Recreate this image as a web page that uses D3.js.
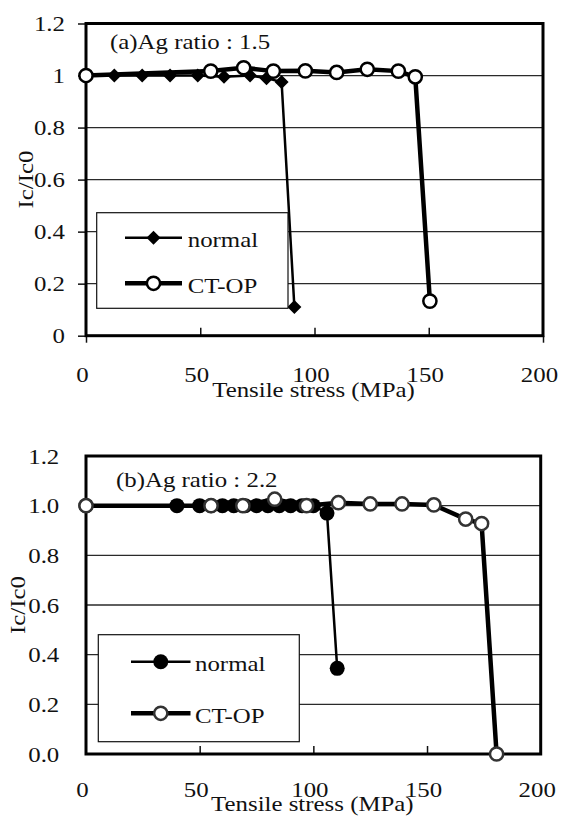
<!DOCTYPE html>
<html lang="en">
<head>
    <meta charset="UTF-8">
    <title>Ic/Ic0 vs tensile stress</title>
    <script src="https://d3js.org/d3.v7.min.js"></script>
    <style>
        body{ margin: 0; background: white; }
        #canvas{ display: block; }
        text{ font-family: "Liberation Serif", "Times New Roman", serif; fill: #111; }
    </style>
</head>
<body>
<svg id="canvas" width="563" height="821"></svg>

<script>
    // ---- data ----
    // (a) Ag ratio 1.5
    let normalA_x = [0, 12.4, 24.6, 36.8, 48.9, 60.4, 71.8, 79, 85.6, 91.2];
    let normalA_y = [1.0, 1.0, 1.0, 1.0, 1.0, 0.995, 1.0, 0.99, 0.975, 0.11];
    let ctopA_x = [0, 54.6, 69, 82, 96, 109.7, 123.1, 136.7, 144.1, 150.5];
    let ctopA_y = [1.0, 1.017, 1.03, 1.017, 1.018, 1.012, 1.024, 1.017, 0.995, 0.133];

    // (b) Ag ratio 2.2
    let normalB_x = [0, 40, 50, 55, 60, 65, 70, 75, 80, 85, 90, 95, 100, 106, 110.5];
    let normalB_y = [1.0, 1.0, 1.0, 1.0, 1.0, 1.0, 1.0, 1.0, 1.0, 1.0, 1.0, 1.0, 1.0, 0.97, 0.345];
    let ctopB_x = [0, 55, 69, 83, 97, 111, 125, 139, 153, 167, 174, 180.6];
    let ctopB_y = [1.0, 1.0, 1.0, 1.026, 1.0, 1.012, 1.007, 1.007, 1.003, 0.946, 0.928, 0.0];

    let xTicks = [0, 50, 100, 150, 200];
    let yTicks = [0, 0.2, 0.4, 0.6, 0.8, 1.0, 1.2];
    let yLabelsA = ["0", "0.2", "0.4", "0.6", "0.8", "1", "1.2"];
    let yLabelsB = ["0.0", "0.2", "0.4", "0.6", "0.8", "1.0", "1.2"];
    let seriesNames = ["normal", "CT-OP"];

    let svg = d3.select('#canvas');
    let SX = 1.13;   // the figure's serif glyphs are a bit wide
    let FS = 22;

    function label(g, str, x, y, anchor, rot) {
        return g.append('text')
            .attr('transform', 'translate(' + x + ',' + y + ')' + (rot ? ' rotate(-90)' : '') + ' scale(' + SX + ',1)')
            .attr('text-anchor', anchor || 'start')
            .style('font-size', FS + 'px')
            .text(str);
    }

    let diamond = 'M0,-7L7,0L0,7L-7,0Z';

    function panel(opt) {
        let g = svg.append('g');
        let x = d3.scaleLinear().domain([0, 200]).range([opt.left, opt.right]);
        let y = d3.scaleLinear().domain([0, 1.2]).range([opt.bottom, opt.top]);

        // gridlines
        g.append('g').selectAll('line')
            .data(yTicks.filter(d => d > 0 && d < 1.2))
            .enter().append('line')
            .attr('x1', opt.left).attr('x2', opt.right)
            .attr('y1', d => y(d)).attr('y2', d => y(d))
            .attr('stroke', '#2a2a2a').attr('stroke-width', 1.3);

        // y ticks (outside) and x ticks (inside)
        if (opt.yTickOut) {
            g.append('g')
                .attr('transform', 'translate(' + opt.left + ',0)')
                .call(d3.axisLeft(y).tickValues(yTicks).tickSize(8).tickFormat(''))
                .call(a => a.select('.domain').remove())
                .selectAll('line').attr('stroke', '#111').attr('stroke-width', 1.5);
        }
        g.append('g')
            .attr('transform', 'translate(0,' + opt.bottom + ')')
            .call(d3.axisTop(x).tickValues([50, 100, 150]).tickSize(8).tickFormat(''))
            .call(a => a.select('.domain').remove())
            .selectAll('line').attr('stroke', '#111').attr('stroke-width', 1.5);
        if (opt.xTickDown) {
            g.append('g')
                .attr('transform', 'translate(0,' + opt.bottom + ')')
                .call(d3.axisBottom(x).tickValues([0, 200]).tickSize(7).tickFormat(''))
                .call(a => a.select('.domain').remove())
                .selectAll('line').attr('stroke', '#111').attr('stroke-width', 1.5);
        }

        // frame
        g.append('rect')
            .attr('x', opt.left).attr('y', opt.top)
            .attr('width', opt.right - opt.left).attr('height', opt.bottom - opt.top)
            .attr('fill', 'none').attr('stroke', '#000').attr('stroke-width', 3);

        // tick labels
        yTicks.forEach((t, i) => label(g, opt.yLabels[i], opt.yLabelX, y(t) + 7.5, 'end'));
        xTicks.forEach(t => label(g, String(t), x(t) - 3.5, opt.bottom + opt.xLabelDy, 'middle'));

        // axis titles
        label(g, 'Tensile stress (MPa)', (opt.left + opt.right) / 2 - 1, opt.xTitleY, 'middle');
        label(g, 'Ic/Ic0', opt.yTitleX, (opt.top + opt.bottom) / 2, 'middle', true);

        // panel title
        label(g, opt.title, opt.titleX, opt.titleY, 'start');

        let line = d3.line().x(d => x(d[0])).y(d => y(d[1]));
        let normal = d3.zip(opt.nx, opt.ny);
        let ctop = d3.zip(opt.cx, opt.cy);

        // normal series
        g.append('path').datum(normal)
            .attr('d', line).attr('fill', 'none')
            .attr('stroke', '#000').attr('stroke-width', 2.5);
        if (opt.normalMarker === 'diamond') {
            g.append('g').selectAll('path').data(normal).enter().append('path')
                .attr('d', diamond)
                .attr('transform', d => 'translate(' + x(d[0]) + ',' + y(d[1]) + ')')
                .attr('fill', '#000');
        } else {
            g.append('g').selectAll('circle').data(normal).enter().append('circle')
                .attr('cx', d => x(d[0])).attr('cy', d => y(d[1]))
                .attr('r', 7.5).attr('fill', '#000');
        }

        // CT-OP series
        g.append('path').datum(ctop)
            .attr('d', line).attr('fill', 'none')
            .attr('stroke', '#000').attr('stroke-width', 4.5);
        g.append('g').selectAll('circle').data(ctop).enter().append('circle')
            .attr('cx', d => x(d[0])).attr('cy', d => y(d[1]))
            .attr('r', 6.6).attr('fill', '#fff')
            .attr('stroke', opt.ringColor).attr('stroke-width', 2.5);

        // legend
        let L = opt.legend;
        let lg = g.append('g');
        lg.append('rect')
            .attr('x', L.x0).attr('y', L.y0)
            .attr('width', L.x1 - L.x0).attr('height', L.y1 - L.y0)
            .attr('fill', '#fff').attr('stroke', '#111').attr('stroke-width', 1.2);
        L.rows.forEach((ry, i) => {
            lg.append('line')
                .attr('x1', L.lx0).attr('x2', L.lx1).attr('y1', ry).attr('y2', ry)
                .attr('stroke', '#000').attr('stroke-width', i === 0 ? 2.5 : 4.5);
            let mx = (L.lx0 + L.lx1) / 2;
            if (i === 0) {
                if (opt.normalMarker === 'diamond') {
                    lg.append('path').attr('d', diamond)
                        .attr('transform', 'translate(' + mx + ',' + ry + ')').attr('fill', '#000');
                } else {
                    lg.append('circle').attr('cx', mx).attr('cy', ry).attr('r', 7.5).attr('fill', '#000');
                }
            } else {
                lg.append('circle').attr('cx', mx).attr('cy', ry).attr('r', 6.6)
                    .attr('fill', '#fff').attr('stroke', opt.ringColor).attr('stroke-width', 2.5);
            }
            label(lg, seriesNames[i], L.tx, ry + 9.5, 'start');
        });
    }

    panel({
        left: 86, right: 543, top: 23.5, bottom: 335.7,
        yLabels: yLabelsA, yLabelX: 65, yTickOut: true, xTickDown: true,
        xLabelDy: 46, xTitleY: 396.5, yTitleX: 33,
        title: '(a)Ag ratio : 1.5', titleX: 110, titleY: 48.5,
        nx: normalA_x, ny: normalA_y, cx: ctopA_x, cy: ctopA_y,
        normalMarker: 'diamond', ringColor: '#000',
        legend: {x0: 96.7, x1: 288, y0: 212.7, y1: 308.3, rows: [237.7, 283.3], lx0: 125, lx1: 182, tx: 187.7}
    });

    panel({
        left: 86, right: 540.7, top: 456, bottom: 754,
        yLabels: yLabelsB, yLabelX: 59.3, yTickOut: false, xTickDown: false,
        xLabelDy: 43, xTitleY: 810.5, yTitleX: 25,
        title: '(b)Ag ratio : 2.2', titleX: 116, titleY: 487.3,
        nx: normalB_x, ny: normalB_y, cx: ctopB_x, cy: ctopB_y,
        normalMarker: 'circle', ringColor: '#333',
        legend: {x0: 98.3, x1: 299.3, y0: 634.7, y1: 741.7, rows: [661.7, 713.3], lx0: 131, lx1: 190.5, tx: 195}
    });
</script>
</body>
</html>
